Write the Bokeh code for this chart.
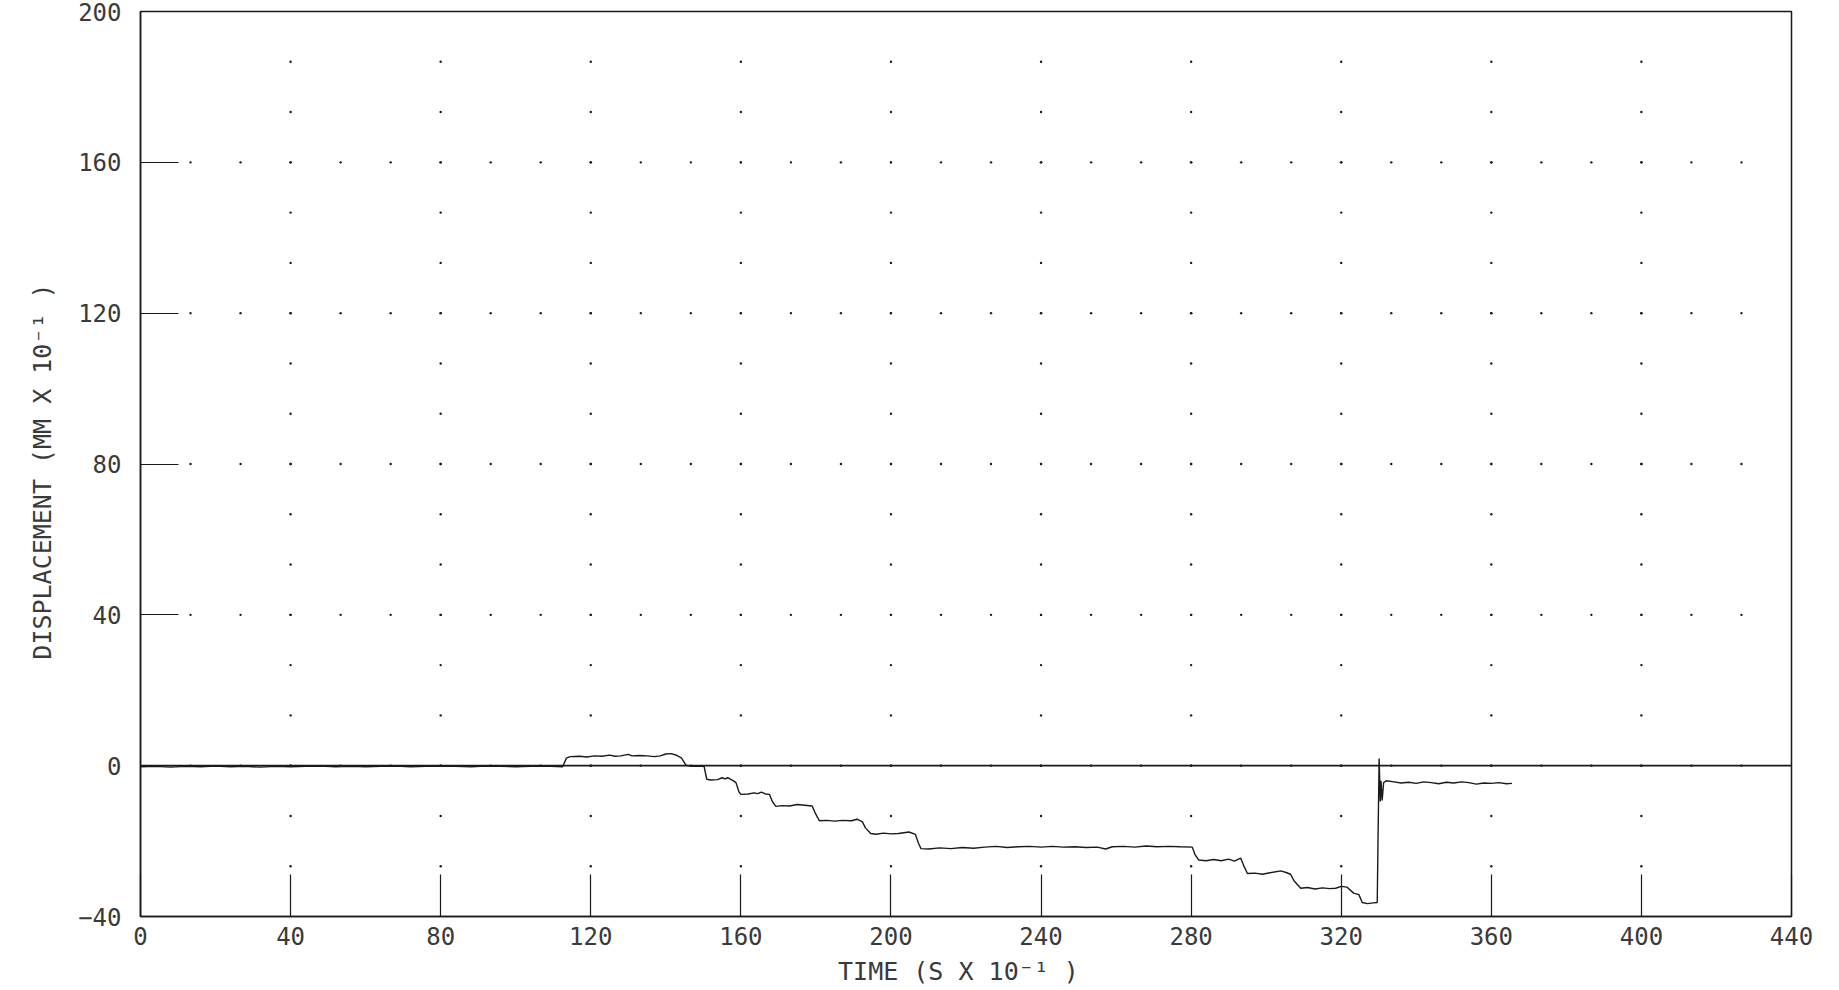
import numpy as np
from bokeh.plotting import figure
from bokeh.models import Range1d, FixedTicker, Span, ColumnDataSource
from bokeh.embed import file_html
from bokeh.resources import INLINE

# ---------------- data ----------------
x_ticks = [0, 40, 80, 120, 160, 200, 240, 280, 320, 360, 400, 440]
y_ticks = [-40, 0, 40, 80, 120, 160, 200]

time = [
    0, 4, 8, 12, 16, 20, 24, 28, 32, 36, 40, 44, 48, 52, 56, 60, 64, 68, 72, 76,
    80, 84, 88, 92, 96, 100, 104, 108, 112.5,
    113.5, 114.5, 117, 119, 121, 123, 125, 126.5, 128, 130, 131, 133, 135, 137,
    138.5, 140, 141.5, 143, 144.2, 145.4, 147, 149, 150.2,
    150.9, 152, 153.8, 155, 155.8, 156.5, 157.8, 158.7, 159.5, 160, 162, 163.5,
    164.5, 165.5, 166.5, 167.6, 168.4, 169.3, 171, 173, 175, 177, 179, 179.8,
    180.9, 183, 185, 187, 189.5, 191, 192.4, 193.2, 194.6, 196, 198, 200, 202,
    204.8, 206.5, 207.3, 208, 210, 213, 216, 219, 222, 225, 228, 231, 234, 237,
    240, 243, 246, 249, 252, 255, 257.2, 259, 262, 265, 268, 271, 274, 277,
    280.3, 281, 282, 284, 286, 288, 290, 291.5, 293.2, 294, 295, 297, 299, 301,
    303.9, 305.5, 306.5, 307.4, 309.2, 311, 313, 315, 317, 318.5, 320, 321.5,
    323.3, 324.7, 325.6, 327, 328.5, 329.6, 329.8, 330.1, 330.4, 330.6, 330.9,
    331.3, 332, 334, 336, 338, 340, 342, 344, 346, 348, 350, 352, 354, 356, 358,
    360, 362, 364, 365.5,
]
displacement = [
    -0.3, -0.2, -0.4, -0.2, -0.3, -0.1, -0.3, -0.2, -0.4, -0.2, -0.3, -0.2, -0.1,
    -0.3, -0.2, -0.3, -0.2, -0.1, -0.3, -0.2, -0.1, -0.2, -0.3, -0.1, -0.2, -0.3,
    -0.2, -0.1, -0.3,
    2.0, 2.4, 2.5, 2.3, 2.6, 2.5, 2.8, 2.5, 2.6, 3.0, 2.6, 2.7, 2.6, 2.4,
    2.6, 3.1, 3.2, 2.7, 2.0, 0.1, -0.2, -0.1, -0.2,
    -3.6, -3.8, -3.7, -3.2, -3.5, -3.2, -3.9, -4.5, -7.0, -7.6, -7.5, -7.2,
    -7.4, -7.0, -7.5, -7.6, -9.5, -10.8, -10.6, -10.7, -10.3, -10.5, -10.7, -12.5,
    -14.6, -14.5, -14.7, -14.5, -14.6, -14.2, -14.9, -16.5, -18.0, -18.2, -17.9, -18.1, -18.0,
    -17.6, -18.2, -20.5, -22.0, -22.1, -21.8, -22.0, -21.7, -21.9, -21.6, -21.4, -21.7, -21.5, -21.4,
    -21.6, -21.4, -21.6, -21.5, -21.7, -21.6, -22.1, -21.5, -21.4, -21.6, -21.3, -21.5, -21.4, -21.5,
    -21.6, -23.5, -25.0, -25.2, -24.9, -25.2, -24.8, -25.3, -24.5, -26.5, -28.6, -28.5, -28.8, -28.4,
    -27.9, -28.4, -28.8, -30.5, -32.5, -32.3, -32.7, -32.4, -32.6, -32.5, -32.0, -32.2,
    -33.8, -34.2, -36.3, -36.6, -36.4, -36.3, -20.0, 1.9, -9.5, -4.0, -9.2,
    -4.5, -4.0, -4.3, -4.6, -4.4, -4.7, -4.3, -4.5, -4.8, -4.4, -4.6, -4.3, -4.5, -4.9, -4.6,
    -4.7, -4.5, -4.8, -4.7,
]

x_label = "TIME  (S X 10\u207b\u00b9 )"
y_label = "DISPLACEMENT  (MM X 10\u207b\u00b9 )"

# ---------------- figure ----------------
FONT = "DejaVu Sans Mono"
INK = "#1a1a1a"
TXT = "#3a3a3a"

p = figure(width=1836, height=988,
           x_range=Range1d(x_ticks[0], x_ticks[-1]),
           y_range=Range1d(y_ticks[0], y_ticks[-1]),
           output_backend="svg", toolbar_location=None,
           min_border_left=140, min_border_right=45,
           min_border_top=11, min_border_bottom=70)

p.grid.visible = False
p.background_fill_color = "white"
p.border_fill_color = "white"
p.outline_line_color = INK
p.outline_line_width = 1.5

# plotter-style dot grid (every third of a major division)
step = 40.0 / 3.0
col_x = np.repeat(np.array(x_ticks[1:-1], dtype=float), 17)
col_y = np.tile(y_ticks[0] + step * np.arange(1, 18), len(x_ticks) - 2)
row_x = np.tile(step * np.arange(1, 33), len(y_ticks) - 2)
row_y = np.repeat(np.array(y_ticks[1:-1], dtype=float), 32)
dots = ColumnDataSource(dict(x=np.concatenate([col_x, row_x]),
                             y=np.concatenate([col_y, row_y])))
p.scatter("x", "y", source=dots, marker="circle", size=2.4,
          fill_color=INK, line_color=None)

# zero reference line
p.add_layout(Span(location=0, dimension="width", line_color=INK, line_width=1.6))

# trace
p.line(time, displacement, line_color=INK, line_width=1.4)

# axes
for ax, ticks, tin in ((p.xaxis[0], x_ticks, 42), (p.yaxis[0], y_ticks, 38)):
    ax.ticker = FixedTicker(ticks=ticks)
    ax.major_tick_in = tin
    ax.major_tick_out = 0
    ax.minor_tick_in = 0
    ax.minor_tick_out = 0
    ax.axis_line_color = INK
    ax.axis_line_width = 1.5
    ax.major_tick_line_color = INK
    ax.major_tick_line_width = 1.2
    ax.major_label_text_font = FONT
    ax.major_label_text_font_size = "24px"
    ax.major_label_text_color = TXT
    ax.axis_label_text_font = FONT
    ax.axis_label_text_font_size = "25px"
    ax.axis_label_text_font_style = "normal"
    ax.axis_label_text_color = TXT

p.xaxis.axis_label = x_label
p.yaxis.axis_label = y_label
p.xaxis.major_label_standoff = 10
p.xaxis.axis_label_standoff = 9
p.yaxis.major_label_standoff = 19
p.yaxis.axis_label_standoff = 18

open("out.html", "w").write(file_html(p, INLINE))
